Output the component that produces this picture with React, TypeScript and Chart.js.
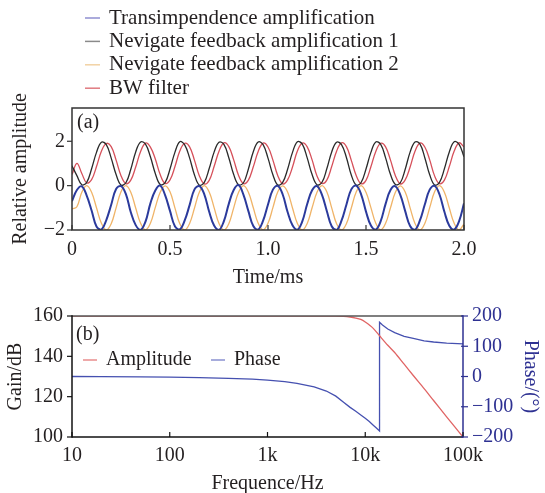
import React, { useEffect, useRef } from "react";
import { Chart, registerables } from "chart.js";
Chart.register(...registerables);

// ---------- (a) time-domain data ----------
const TIME_MS = [
  0, 0.025, 0.05, 0.075, 0.1, 0.125, 0.15, 0.175,
  0.2, 0.225, 0.25, 0.275, 0.3, 0.325, 0.35, 0.375,
  0.4, 0.425, 0.45, 0.475, 0.5, 0.525, 0.55, 0.575,
  0.6, 0.625, 0.65, 0.675, 0.7, 0.725, 0.75, 0.775,
  0.8, 0.825, 0.85, 0.875, 0.9, 0.925, 0.95, 0.975,
  1.0, 1.025, 1.05, 1.075, 1.1, 1.125, 1.15, 1.175,
  1.2, 1.225, 1.25, 1.275, 1.3, 1.325, 1.35, 1.375,
  1.4, 1.425, 1.45, 1.475, 1.5, 1.525, 1.55, 1.575,
  1.6, 1.625, 1.65, 1.675, 1.7, 1.725, 1.75, 1.775,
  1.8, 1.825, 1.85, 1.875, 1.9, 1.925, 1.95, 1.975,
  2.0,
];

const TRANSIMPEDANCE = [
  -0.7, -0.2, -0.03, -0.45, -1.12, -1.84, -1.98, -1.55,
  -0.86, -0.15, -0.02, -0.38, -1.2, -1.78, -2.0, -1.62,
  -0.8, -0.22, 0.0, -0.43, -1.14, -1.83, -1.97, -1.57,
  -0.88, -0.17, -0.02, -0.39, -1.18, -1.8, -2.0, -1.6,
  -0.82, -0.2, 0.02, -0.42, -1.15, -1.82, -1.98, -1.58,
  -0.85, -0.18, -0.01, -0.4, -1.19, -1.79, -1.99, -1.61,
  -0.83, -0.21, -0.02, -0.41, -1.14, -1.83, -2.0, -1.58,
  -0.86, -0.17, 0.0, -0.39, -1.17, -1.8, -1.98, -1.6,
  -0.82, -0.2, -0.03, -0.42, -1.15, -1.82, -1.99, -1.57,
  -0.85, -0.18, -0.01, -0.4, -1.18, -1.81, -1.98, -1.6,
  -0.8,
];

const NF_AMP_1 = [
  0.9, 0.45, 0.04, 0.15, 0.76, 1.5, 1.96, 1.85,
  1.24, 0.5, 0.03, 0.13, 0.74, 1.52, 1.97, 1.87,
  1.3, 0.55, 0.05, 0.14, 0.75, 1.5, 1.98, 1.84,
  1.25, 0.48, 0.02, 0.15, 0.77, 1.51, 1.96, 1.86,
  1.26, 0.5, 0.04, 0.13, 0.75, 1.53, 1.97, 1.85,
  1.24, 0.49, 0.03, 0.15, 0.74, 1.5, 1.98, 1.87,
  1.25, 0.5, 0.04, 0.14, 0.76, 1.52, 1.96, 1.85,
  1.27, 0.48, 0.03, 0.14, 0.75, 1.5, 1.97, 1.86,
  1.25, 0.5, 0.05, 0.13, 0.74, 1.51, 1.97, 1.88,
  1.26, 0.49, 0.03, 0.15, 0.76, 1.52, 1.98, 1.86,
  1.3,
];

const NF_AMP_2 = [
  -1.05, -0.95, -0.3, 0.0, -0.3, -1.0, -1.7, -2.0,
  -1.72, -1.0, -0.28, 0.0, -0.3, -1.01, -1.7, -1.99,
  -1.7, -0.98, -0.3, -0.01, -0.28, -1.0, -1.72, -2.0,
  -1.71, -1.01, -0.29, 0.0, -0.29, -0.99, -1.71, -2.0,
  -1.72, -1.0, -0.3, 0.0, -0.3, -1.0, -1.7, -1.99,
  -1.7, -0.99, -0.28, -0.01, -0.29, -1.01, -1.71, -2.0,
  -1.71, -1.0, -0.3, 0.0, -0.28, -1.0, -1.72, -2.0,
  -1.72, -1.01, -0.29, 0.0, -0.3, -0.99, -1.7, -1.99,
  -1.7, -1.0, -0.3, -0.01, -0.29, -1.0, -1.71, -2.0,
  -1.71, -0.99, -0.28, 0.0, -0.3, -1.01, -1.7, -2.0,
  -1.72,
];

const BW_FILTER = [
  0.5, 1.0, 0.55, 0.12, 0.27, 0.86, 1.55, 1.9,
  1.76, 1.15, 0.45, 0.09, 0.25, 0.84, 1.54, 1.92,
  1.74, 1.2, 0.5, 0.1, 0.26, 0.85, 1.56, 1.91,
  1.75, 1.14, 0.44, 0.08, 0.24, 0.86, 1.55, 1.93,
  1.76, 1.16, 0.46, 0.09, 0.25, 0.85, 1.54, 1.92,
  1.74, 1.15, 0.45, 0.08, 0.26, 0.84, 1.56, 1.92,
  1.75, 1.16, 0.44, 0.1, 0.25, 0.86, 1.55, 1.93,
  1.76, 1.14, 0.46, 0.09, 0.24, 0.85, 1.54, 1.91,
  1.75, 1.15, 0.45, 0.08, 0.26, 0.84, 1.55, 1.92,
  1.74, 1.16, 0.44, 0.09, 0.25, 0.86, 1.56, 1.93,
  1.75,
];

const LABELS_A = [
  "Transimpendence amplification",
  "Nevigate feedback amplification 1",
  "Nevigate feedback amplification 2",
  "BW filter",
];
const TIME_TICKS = [0, 0.5, 1.0, 1.5, 2.0];
const AMP_TICKS = [-2, 0, 2];

// ---------- (b) Bode data ----------
const FREQ_GAIN = [10, 100, 1000, 2000, 3000, 4000, 5000, 6000, 7000, 8000, 9000, 10000, 12000, 14000, 17000, 20000, 25000, 31000, 40000, 50000, 68000, 100000];
const GAIN_DB = [160, 160, 160, 160, 160, 159.98, 159.93, 159.8, 159.5, 159.0, 158.3, 157.0, 154.0, 150.2, 145.5, 141.9, 136.1, 130.5, 124.0, 118.1, 110.0, 100.0];

const FREQ_PHASE = [10, 20, 50, 100, 200, 400, 700, 1000, 1500, 2000, 3000, 4000, 5000, 6000, 7000, 8000, 9000, 10000, 11000, 12000, 13000, 14000, 14000, 15000, 17000, 20000, 25000, 31000, 40000, 50000, 68000, 100000];
const PHASE_DEG = [0, -0.5, -1, -2, -3.5, -6, -9, -12, -17, -23, -34, -48, -65, -85, -102, -115, -127, -138, -149, -160, -170, -180, 179, 170, 157, 145, 133, 126, 118, 114, 110, 108];

const LABELS_B = ["Amplitude", "Phase"];
const FREQ_TICKS = [10, 100, 1000, 10000, 100000];
const FREQ_TICK_LABELS = ["10", "100", "1k", "10k", "100k"];
const GAIN_TICKS = [100, 120, 140, 160];
const PHASE_TICKS = [-200, -100, 0, 100, 200];

// ---------- styles ----------
const FONT = "'Liberation Serif', 'Times New Roman', serif";
const TEXT = "#231f20";
const AXIS_BLUE = "#2e3192";
const COLORS_A = ["#2b3a9c", "#2a2a2a", "#f0b468", "#d6505a"];
const WIDTHS_A = [2, 1.3, 1.3, 1.3];
const LEGEND_A = ["#8f8fd0", "#8a8a8a", "#f2d2a4", "#e07a80"];
const COLORS_B = ["#e06464", "#4550b0"];
const LEGEND_B = ["#e88c8c", "#8a90d0"];

const fmt = (v: number) => (v < 0 ? "\u2212" + Math.abs(v) : String(v));
const pts = (xs: number[], ys: number[]) => xs.map((x, i) => ({ x, y: ys[i] }));

function seg(ctx: CanvasRenderingContext2D, x1: number, y1: number, x2: number, y2: number) {
  ctx.beginPath();
  ctx.moveTo(x1, y1);
  ctx.lineTo(x2, y2);
  ctx.stroke();
}

const frameA = {
  id: "frameA",
  afterDraw(chart: any) {
    const { ctx, chartArea, scales } = chart;
    const { left, right, top, bottom } = chartArea;
    ctx.save();
    ctx.strokeStyle = "#333";
    ctx.lineWidth = 1.5;
    ctx.strokeRect(left, top, right - left, bottom - top);
    ctx.lineWidth = 1.2;
    TIME_TICKS.forEach((v) => {
      const px = scales.x.getPixelForValue(v);
      seg(ctx, px, bottom, px, bottom - 5);
    });
    AMP_TICKS.forEach((v) => {
      const py = scales.y.getPixelForValue(v);
      seg(ctx, left, py, left - 5, py);
    });
    ctx.font = `20px ${FONT}`;
    ctx.fillStyle = TEXT;
    ctx.textBaseline = "middle";
    ctx.textAlign = "left";
    ctx.fillText("(a)", left + 5, top + 15);
    ctx.font = `21px ${FONT}`;
    chart.data.datasets.forEach((ds: any, i: number) => {
      const y = 18 + i * 23.4;
      ctx.strokeStyle = LEGEND_A[i];
      ctx.lineWidth = 1.5;
      seg(ctx, 85, y, 100, y);
      ctx.fillText(ds.label, 109, y);
    });
    ctx.restore();
  },
};

const frameB = {
  id: "frameB",
  afterDraw(chart: any) {
    const { ctx, chartArea, scales } = chart;
    const { left, right, top, bottom } = chartArea;
    ctx.save();
    ctx.lineWidth = 1.5;
    ctx.strokeStyle = "#555";
    seg(ctx, left, top, right, top);
    ctx.strokeStyle = "#111";
    seg(ctx, left, top - 0.75, left, bottom + 0.75);
    seg(ctx, left, bottom, right, bottom);
    ctx.strokeStyle = AXIS_BLUE;
    seg(ctx, right, top - 0.75, right, bottom + 0.75);
    ctx.lineWidth = 1.2;
    ctx.strokeStyle = "#111";
    FREQ_TICKS.forEach((v) => {
      const px = scales.x.getPixelForValue(v);
      seg(ctx, px, bottom, px, bottom - 5);
    });
    GAIN_TICKS.forEach((v) => {
      const py = scales.y.getPixelForValue(v);
      seg(ctx, left, py, left - 5, py);
    });
    ctx.strokeStyle = AXIS_BLUE;
    PHASE_TICKS.forEach((v) => {
      const py = scales.y1.getPixelForValue(v);
      seg(ctx, right - 2, py, right + 5, py);
    });
    ctx.font = `20px ${FONT}`;
    ctx.fillStyle = TEXT;
    ctx.textBaseline = "middle";
    ctx.textAlign = "left";
    ctx.fillText("(b)", left + 4, top + 19);
    const ly = top + 44;
    const offs = [11, 139];
    LABELS_B.forEach((lab, i) => {
      ctx.strokeStyle = LEGEND_B[i];
      ctx.lineWidth = 1.5;
      seg(ctx, left + offs[i], ly, left + offs[i] + 14, ly);
      ctx.fillText(lab, left + offs[i] + 23, ly);
    });
    ctx.restore();
  },
};

export default function App() {
  const refA = useRef<HTMLCanvasElement>(null);
  const refB = useRef<HTMLCanvasElement>(null);

  useEffect(() => {
    Chart.defaults.font.family = FONT;
    Chart.defaults.font.size = 20;
    Chart.defaults.color = TEXT;

    const seriesA = [TRANSIMPEDANCE, NF_AMP_1, NF_AMP_2, BW_FILTER];
    const chartA = new Chart(refA.current as HTMLCanvasElement, {
      type: "line",
      data: {
        datasets: seriesA.map((s, i) => ({
          label: LABELS_A[i],
          data: pts(TIME_MS, s),
          borderColor: COLORS_A[i],
          backgroundColor: COLORS_A[i],
          borderWidth: WIDTHS_A[i],
          pointRadius: 0,
          tension: 0.4,
          fill: false,
        })),
      },
      options: {
        animation: false,
        responsive: false,
        maintainAspectRatio: false,
        layout: { padding: { top: 108, right: 81, left: 0, bottom: 0 } },
        plugins: { legend: { display: false }, tooltip: { enabled: false } },
        scales: {
          x: {
            type: "linear",
            min: 0,
            max: 2,
            afterBuildTicks: (s: any) => {
              s.ticks = TIME_TICKS.map((v) => ({ value: v }));
            },
            ticks: {
              padding: 8,
              maxRotation: 0,
              autoSkip: false,
              color: TEXT,
              callback: (v: any) => (Number(v) === 0 ? "0" : Number(v).toFixed(1)),
            },
            grid: { display: false, drawTicks: false },
            border: { display: false },
            title: { display: true, text: "Time/ms", color: TEXT, padding: { top: 4, bottom: 0 } },
            afterFit: (s: any) => {
              s.height = 60;
            },
          },
          y: {
            type: "linear",
            min: -2,
            max: 3.5,
            afterBuildTicks: (s: any) => {
              s.ticks = AMP_TICKS.map((v) => ({ value: v }));
            },
            ticks: { padding: 7, color: TEXT, callback: (v: any) => fmt(Number(v)) },
            grid: { display: false, drawTicks: false },
            border: { display: false },
            title: { display: true, text: "Relative amplitude", color: TEXT, padding: { top: 9, bottom: 0 } },
            afterFit: (s: any) => {
              s.width = 72;
            },
          },
        },
      },
      plugins: [frameA],
    } as any);

    const seriesB = [pts(FREQ_GAIN, GAIN_DB), pts(FREQ_PHASE, PHASE_DEG)];
    const chartB = new Chart(refB.current as HTMLCanvasElement, {
      type: "line",
      data: {
        datasets: seriesB.map((d, i) => ({
          label: LABELS_B[i],
          data: d,
          yAxisID: i === 0 ? "y" : "y1",
          borderColor: COLORS_B[i],
          backgroundColor: COLORS_B[i],
          borderWidth: 1.3,
          pointRadius: 0,
          tension: i === 0 ? 0.3 : 0,
          fill: false,
        })),
      },
      options: {
        animation: false,
        responsive: false,
        maintainAspectRatio: false,
        layout: { padding: { top: 26, right: 0, left: 0, bottom: 0 } },
        plugins: { legend: { display: false }, tooltip: { enabled: false } },
        scales: {
          x: {
            type: "logarithmic",
            min: 10,
            max: 100000,
            afterBuildTicks: (s: any) => {
              s.ticks = FREQ_TICKS.map((v) => ({ value: v }));
            },
            ticks: {
              padding: 7,
              maxRotation: 0,
              autoSkip: false,
              color: TEXT,
              callback: (_v: any, i: number) => FREQ_TICK_LABELS[i],
            },
            grid: { display: false, drawTicks: false },
            border: { display: false },
            title: { display: true, text: "Frequence/Hz", color: TEXT, padding: { top: 4, bottom: -3 } },
            afterFit: (s: any) => {
              s.height = 56;
            },
          },
          y: {
            type: "linear",
            position: "left",
            min: 100,
            max: 160,
            afterBuildTicks: (s: any) => {
              s.ticks = GAIN_TICKS.map((v) => ({ value: v }));
            },
            ticks: { padding: 9, color: TEXT, callback: (v: any) => fmt(Number(v)) },
            grid: { display: false, drawTicks: false },
            border: { display: false },
            title: { display: true, text: "Gain/dB", color: TEXT, padding: { top: 4, bottom: 0 } },
            afterFit: (s: any) => {
              s.width = 72;
            },
          },
          y1: {
            type: "linear",
            position: "right",
            min: -200,
            max: 200,
            afterBuildTicks: (s: any) => {
              s.ticks = PHASE_TICKS.map((v) => ({ value: v }));
            },
            ticks: { padding: 9, color: AXIS_BLUE, callback: (v: any) => fmt(Number(v)) },
            grid: { display: false, drawTicks: false },
            border: { display: false },
            title: { display: true, text: "Phase/(°)", color: AXIS_BLUE, padding: { top: 3, bottom: 0 } },
            afterFit: (s: any) => {
              s.width = 82;
            },
          },
        },
      },
      plugins: [frameB],
    } as any);

    return () => {
      chartA.destroy();
      chartB.destroy();
    };
  }, []);

  return (
    <div style={{ position: "absolute", left: 0, top: 0, width: 545, height: 493, background: "#fff" }}>
      <canvas ref={refA} width={545} height={290} style={{ position: "absolute", left: 0, top: 0, width: 545, height: 290 }} />
      <canvas ref={refB} width={545} height={203} style={{ position: "absolute", left: 0, top: 290, width: 545, height: 203 }} />
    </div>
  );
}
